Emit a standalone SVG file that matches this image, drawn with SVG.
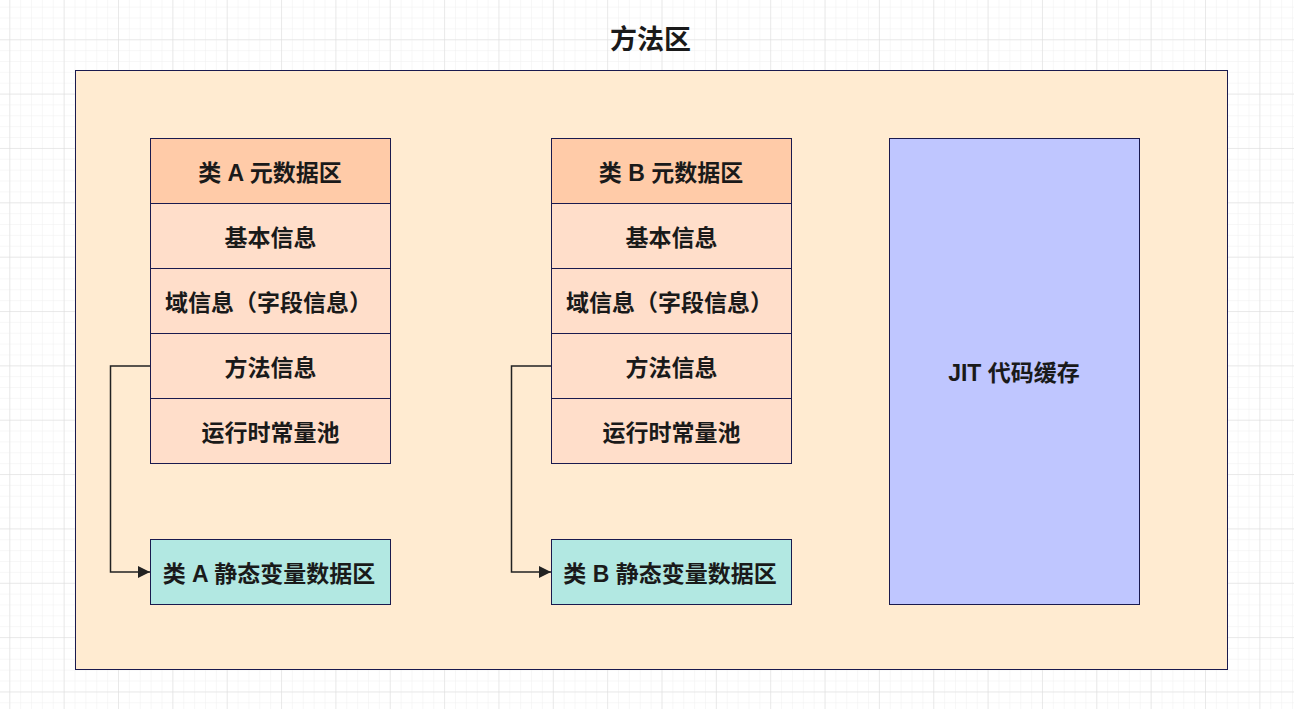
<svg xmlns="http://www.w3.org/2000/svg" width="1294" height="709" viewBox="0 0 1294 709">
  <defs>
    <!-- background grid: minor cells with a darker line every fifth cell -->
    <pattern id="gridMinor" x="9.3" y="6.6" width="10.87" height="10.87" patternUnits="userSpaceOnUse">
      <path d="M0 0 V10.87 M0 0 H10.87" fill="none" stroke="#efefef" stroke-width="1"/>
    </pattern>
    <pattern id="gridMajor" x="9.3" y="39.3" width="54.35" height="54.35" patternUnits="userSpaceOnUse">
      <path d="M0 0 V54.35 M0 0 H54.35" fill="none" stroke="#dcdcdc" stroke-width="1"/>
    </pattern>
    <marker id="arrow" viewBox="0 0 12 12" refX="12" refY="6" markerWidth="12" markerHeight="12" markerUnits="userSpaceOnUse" orient="auto">
      <path d="M0 0 L12 6 L0 12 Z" fill="#222"/>
    </marker>
    <style>
      .box { stroke: #1a1a4e; stroke-width: 1; }
      .head { fill: #ffcba8; }
      .row { fill: #ffdeca; }
      .static { fill: #b2e8e2; }
      .jit { fill: #bfc6ff; }
      .area { fill: #ffebd1; stroke: #1a1a4e; stroke-width: 1; }
      .label { font-family: "Liberation Sans", "Noto Sans CJK SC", sans-serif; font-weight: bold; font-size: 23px; fill: #1a1a1a; text-anchor: middle; dominant-baseline: central; }
      .title { font-size: 27px; }
      .link { fill: none; stroke: #222; stroke-width: 1.5; }
    </style>
  </defs>

  <rect width="1294" height="709" fill="#ffffff"/>
  <rect width="1294" height="709" fill="url(#gridMinor)"/>
  <rect width="1294" height="709" fill="url(#gridMajor)"/>

  <g id="method-area">
    <text class="label title" x="650.5" y="40">方法区</text>
    <rect class="area" x="75.5" y="70.5" width="1152" height="599"/>
  </g>

  <g id="class-a-metadata">
    <rect class="box head" x="150.5" y="138.5" width="240" height="65"/>
    <rect class="box row" x="150.5" y="203.5" width="240" height="65"/>
    <rect class="box row" x="150.5" y="268.5" width="240" height="65"/>
    <rect class="box row" x="150.5" y="333.5" width="240" height="65"/>
    <rect class="box row" x="150.5" y="398.5" width="240" height="65"/>
    <text class="label" x="270" y="172.5">类 A 元数据区</text>
    <text class="label" x="270.5" y="237.5">基本信息</text>
    <text class="label" x="268.5" y="302.5">域信息（字段信息）</text>
    <text class="label" x="270.5" y="367.5">方法信息</text>
    <text class="label" x="270.5" y="432.5">运行时常量池</text>
  </g>

  <g id="class-b-metadata">
    <rect class="box head" x="551.5" y="138.5" width="240" height="65"/>
    <rect class="box row" x="551.5" y="203.5" width="240" height="65"/>
    <rect class="box row" x="551.5" y="268.5" width="240" height="65"/>
    <rect class="box row" x="551.5" y="333.5" width="240" height="65"/>
    <rect class="box row" x="551.5" y="398.5" width="240" height="65"/>
    <text class="label" x="671" y="172.5">类 B 元数据区</text>
    <text class="label" x="671.5" y="237.5">基本信息</text>
    <text class="label" x="669.5" y="302.5">域信息（字段信息）</text>
    <text class="label" x="671.5" y="367.5">方法信息</text>
    <text class="label" x="671.5" y="432.5">运行时常量池</text>
  </g>

  <g id="class-a-static">
    <rect class="box static" x="150.5" y="539.5" width="240" height="65"/>
    <text class="label" x="269" y="574">类 A 静态变量数据区</text>
  </g>

  <g id="class-b-static">
    <rect class="box static" x="551.5" y="539.5" width="240" height="65"/>
    <text class="label" x="670" y="574">类 B 静态变量数据区</text>
  </g>

  <g id="jit-cache">
    <rect class="box jit" x="889.5" y="138.5" width="250" height="466"/>
    <text class="label" x="1014" y="373">JIT 代码缓存</text>
  </g>

  <g id="connectors">
    <path class="link" d="M150 366 H110.5 V572 H150" marker-end="url(#arrow)"/>
    <path class="link" d="M551 366 H511.5 V572 H551" marker-end="url(#arrow)"/>
  </g>
</svg>
